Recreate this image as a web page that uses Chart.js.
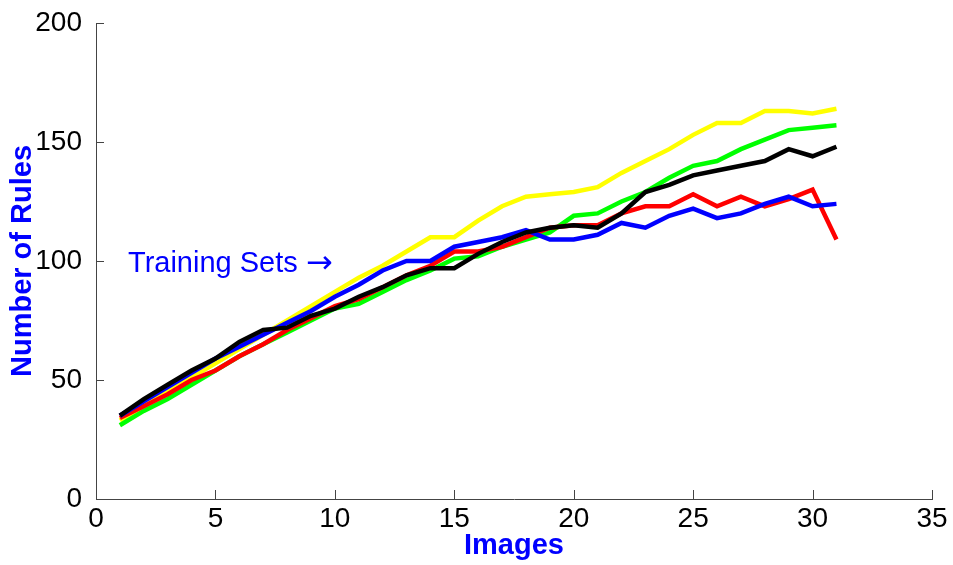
<!DOCTYPE html>
<html>
<head>
<meta charset="utf-8">
<script src="https://cdn.jsdelivr.net/npm/chart.js@4"></script>
<style>
    body { margin: 0; background: #fff; }
    canvas { display: block; }
</style>
</head>
<body>
<canvas id="myChart" width="953" height="565"></canvas>
<script>
const images = [1,2,3,4,5,6,7,8,9,10,11,12,13,14,15,16,17,18,19,20,21,22,23,24,25,26,27,28,29,30,31];

const yellowRules = [33,39,45,51,57,63,69,75,81,87,93,98,104,110,110,117,123,127,128,129,131,137,142,147,153,158,158,163,163,162,164];
const greenRules  = [31,37,42,48,54,60,65,70,75,80,82,87,92,96,101,102,106,109,112,119,120,125,129,135,140,142,147,151,155,156,157];
const blackRules  = [35,42,48,54,59,66,71,72,77,80,85,89,94,97,97,103,108,112,114,115,114,120,129,132,136,138,140,142,147,144,148];
const redRules    = [34,39,44,50,54,60,65,71,76,81,84,89,94,98,104,104,106,110,114,115,115,120,123,123,128,123,127,123,126,130,109];
const blueRules   = [35,41,47,53,59,64,69,74,79,85,90,96,100,100,106,108,110,113,109,109,111,116,114,119,122,118,120,124,127,123,124];

const xTicks = [0,5,10,15,20,25,30,35];
const yTicks = [0,50,100,150,200];

const ctx = document.getElementById('myChart').getContext('2d');

function toPoints(values) {
    return values.map((v, i) => ({ x: images[i], y: v }));
}

function makeSet(label, values, color, order) {
    return {
        label: label,
        data: toPoints(values),
        borderColor: color,
        backgroundColor: color,
        borderWidth: 4.5,
        pointRadius: 0,
        tension: 0,
        fill: false,
        order: order
    };
}

// inward tick marks + the "Training Sets" note
const extras = {
    id: 'extras',
    afterDraw(chart) {
        const c = chart.ctx;
        const xs = chart.scales.x;
        const ys = chart.scales.y;
        const area = chart.chartArea;
        c.save();
        c.strokeStyle = '#444';
        c.lineWidth = 1;
        c.beginPath();
        xTicks.forEach(t => {
            const px = Math.round(xs.getPixelForValue(t)) + 0.5;
            c.moveTo(px, area.bottom);
            c.lineTo(px, area.bottom - 9);
        });
        yTicks.forEach(t => {
            const py = Math.round(ys.getPixelForValue(t)) + 0.5;
            c.moveTo(area.left, py);
            c.lineTo(area.left + 8, py);
        });
        c.stroke();

        const tx = xs.getPixelForValue(1.34);
        const ty = ys.getPixelForValue(95.5);
        c.fillStyle = '#0000ff';
        c.font = '29px "Liberation Sans", Arial, sans-serif';
        c.textBaseline = 'alphabetic';
        c.textAlign = 'left';
        c.fillText('Training Sets', tx, ty);
        c.font = '32px "DejaVu Sans", sans-serif';
        c.fillText('\u2192', tx + 178, ty + 1);
        c.restore();
    }
};

new Chart(ctx, {
    type: 'line',
    data: {
        datasets: [
            makeSet('Yellow', yellowRules, '#ffff00', 5),
            makeSet('Green', greenRules, '#00ff00', 4),
            makeSet('Red', redRules, '#ff0000', 3),
            makeSet('Blue', blueRules, '#0000ff', 2),
            makeSet('Black', blackRules, '#000000', 1)
        ]
    },
    options: {
        responsive: false,
        animation: false,
        devicePixelRatio: 1,
        layout: { padding: { top: 23, right: 21, left: 0, bottom: 0 } },
        plugins: {
            legend: { display: false },
            tooltip: { enabled: false }
        },
        scales: {
            x: {
                type: 'linear',
                min: 0,
                max: 35,
                afterFit(s) { s.height = 66; },
                afterBuildTicks(s) { s.ticks = xTicks.map(v => ({ value: v })); },
                grid: { display: false },
                border: { display: true, color: '#444', width: 1 },
                ticks: {
                    color: '#000',
                    padding: -5,
                    maxRotation: 0,
                    font: { family: '"Liberation Sans", Arial, sans-serif', size: 28 }
                },
                title: {
                    display: true,
                    text: 'Images',
                    color: '#0000ff',
                    padding: { top: 0, bottom: 2 },
                    font: { family: '"Liberation Sans", Arial, sans-serif', size: 29, weight: 'bold' }
                }
            },
            y: {
                type: 'linear',
                min: 0,
                max: 200,
                afterFit(s) { s.width = 96; },
                afterBuildTicks(s) { s.ticks = yTicks.map(v => ({ value: v })); },
                grid: { display: false },
                border: { display: true, color: '#444', width: 1 },
                ticks: {
                    color: '#000',
                    padding: 6,
                    font: { family: '"Liberation Sans", Arial, sans-serif', size: 28 }
                },
                title: {
                    display: true,
                    text: 'Number of Rules',
                    color: '#0000ff',
                    padding: { top: 6, bottom: 0 },
                    font: { family: '"Liberation Sans", Arial, sans-serif', size: 29, weight: 'bold' }
                }
            }
        }
    },
    plugins: [extras]
});
</script>
</body>
</html>
